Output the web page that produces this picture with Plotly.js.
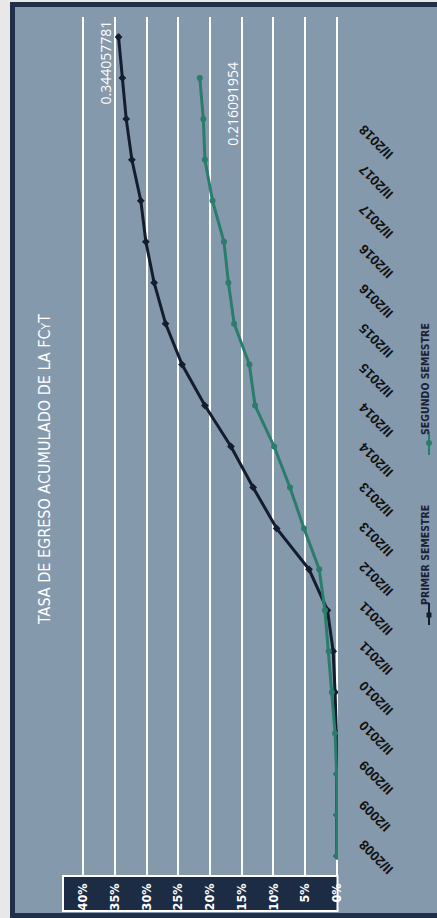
<!DOCTYPE html>
<html><head><meta charset="utf-8">
<script src="https://cdn.plot.ly/plotly-3.0.1.min.js"></script>
<style>
html,body{margin:0;padding:0;background:#e8e8e8;overflow:hidden;}
#frame{position:absolute;left:10px;top:2px;width:427px;height:916px;box-sizing:border-box;border-left:5px solid #1f3048;border-top:5px solid #1f3048;border-bottom:5px solid #1f3048;background:#8599ad;}
#chart{position:absolute;left:0;top:0;width:437px;height:918px;}
</style></head><body>
<div id="frame"></div><div id="chart"></div>
<script>
// ---- data ----
const periods = ['II/2008','I/2009','II/2009','I/2010','II/2010','I/2011','II/2011','I/2012','II/2012','I/2013','II/2013','I/2014','II/2014','I/2015','II/2015','I/2016','II/2016','I/2017','II/2017','I/2018','II/2018'];
const primer = [0,0,0,0.001,0.003,0.006,0.015,0.044,0.095,0.132,0.167,0.208,0.244,0.270,0.288,0.301,0.309,0.323,0.332,0.338,0.344057781];
const segundo = [0,0,0.0005,0.003,0.008,0.013,0.019,0.028,0.052,0.074,0.099,0.129,0.138,0.162,0.171,0.178,0.196,0.208,0.2105,0.216091954];
const seriesNames = ['PRIMER SEMESTRE','SEGUNDO SEMESTRE'];
const catLabels = ['II/2008','I/2009','II/2009','II/2010','II/2010','II/2011','II/2011','II/2012','II/2013','II/2013','II/2014','II/2014','II/2015','II/2015','II/2016','II/2016','II/2017','II/2017','II/2018'];
const pctTicks = [0,0.05,0.10,0.15,0.20,0.25,0.30,0.35,0.40];
const pctLabels = ['0%','5%','10%','15%','20%','25%','30%','35%','40%'];
const titleText = 'TASA DE EGRESO ACUMULADO DE LA FC<span style="font-size:12px">Y</span>T';

// ---- styles ----
const W=437,H=918,L=82,R=0,T=17,B=43,plotRight=338;
const narrow = 'Liberation Sans Narrow, DejaVu Sans Condensed, Arial Narrow, sans-serif';
const darkC = '#141d2d', greenC = '#2a7d6b';
const px2x = p => (p-L)/(W-L-R);
const py2y = p => (H-B-p)/(H-T-B);

const idx = a => a.map((_,i)=>i);

const traces = [
  {x: primer, y: idx(primer), type:'scatter', mode:'lines+markers', name:seriesNames[0],
   line:{color:darkC,width:3}, marker:{symbol:'diamond',size:6,color:darkC}, showlegend:false, hoverinfo:'skip'},
  {x: segundo, y: idx(segundo), type:'scatter', mode:'lines+markers', name:seriesNames[1],
   line:{color:greenC,width:3}, marker:{symbol:'circle',size:6,color:greenC}, showlegend:false, hoverinfo:'skip'},
  {x: catLabels.map(()=>null), y: idx(catLabels), yaxis:'y2', type:'scatter', mode:'markers',
   marker:{opacity:0}, showlegend:false, hoverinfo:'skip'}
];

const last1 = primer.length-1, last2 = segundo.length-1;
const layout = {
  width:W, height:H,
  margin:{l:L,r:R,t:T,b:B},
  paper_bgcolor:'rgba(0,0,0,0)', plot_bgcolor:'rgba(0,0,0,0)',
  showlegend:false,
  xaxis:{domain:[0,px2x(plotRight)], range:[0.4016,-0.0016], tickmode:'array', tickvals:pctTicks, ticktext:pctLabels,
    tickangle:-90, showgrid:true, gridcolor:'#ffffff', gridwidth:2, zeroline:false, showline:false, ticks:'',
    tickfont:{family:narrow,size:12.5,color:'#ffffff',weight:'bold'}, ticklabelstandoff:5},
  yaxis:{range:[-0.464,20.488], showticklabels:false, showgrid:false, zeroline:false, showline:false, ticks:''},
  yaxis2:{overlaying:'y', anchor:'free', position:px2x(360), side:'left', tickmode:'array', tickvals:idx(catLabels), ticktext:catLabels,
    tickangle:-135, range:[-0.73,20.87], showgrid:false, zeroline:false, showline:false, ticks:'',
    tickfont:{family:'Liberation Sans, Arial, sans-serif',size:13.5,color:'#111111',weight:'bold'}},
  annotations:[
    {text:titleText, xref:'paper', yref:'paper', x:px2x(45), y:py2y(470), xanchor:'center', yanchor:'middle', textangle:-90, showarrow:false,
     font:{family:narrow,size:16,color:'#ffffff'}},
    {text:String(primer[last1]), xref:'x', yref:'y', x:primer[last1], y:last1, xanchor:'center', yanchor:'middle', textangle:-90, showarrow:false,
     xshift:-13, yshift:-26, font:{family:'Open Sans, sans-serif',size:14,color:'#ffffff'}},
    {text:String(segundo[last2]), xref:'x', yref:'y', x:segundo[last2], y:last2, xanchor:'center', yanchor:'middle', textangle:-90, showarrow:false,
     xshift:33, yshift:-26, font:{family:'Open Sans, sans-serif',size:14,color:'#ffffff'}},
    {text:seriesNames[0], xref:'paper', yref:'paper', x:px2x(425), y:py2y(555), xanchor:'center', yanchor:'middle', textangle:-90, showarrow:false,
     font:{family:narrow,size:10.5,color:'#1a2233',weight:'bold'}},
    {text:seriesNames[1], xref:'paper', yref:'paper', x:px2x(425), y:py2y(379), xanchor:'center', yanchor:'middle', textangle:-90, showarrow:false,
     font:{family:narrow,size:10.5,color:'#1a2233',weight:'bold'}}
  ],
  shapes:[
    {type:'rect', layer:'below', xref:'paper', yref:'paper', x0:px2x(63), x1:px2x(337.5), y0:py2y(911), y1:py2y(876),
     fillcolor:'#1c2c44', line:{color:'#ffffff',width:2}},
    {type:'line', xref:'paper', yref:'paper', x0:px2x(429), x1:px2x(429), y0:py2y(625), y1:py2y(603), line:{color:darkC,width:2}},
    {type:'rect', xref:'paper', yref:'paper', xsizemode:'pixel', ysizemode:'pixel', xanchor:px2x(429), yanchor:py2y(615),
     x0:-2.5, x1:2.5, y0:-2.5, y1:2.5, fillcolor:darkC, line:{width:0}},
    {type:'line', xref:'paper', yref:'paper', x0:px2x(429), x1:px2x(429), y0:py2y(455), y1:py2y(432), line:{color:greenC,width:2}},
    {type:'circle', xref:'paper', yref:'paper', xsizemode:'pixel', ysizemode:'pixel', xanchor:px2x(429), yanchor:py2y(443),
     x0:-3, x1:3, y0:-3, y1:3, fillcolor:greenC, line:{width:0}}
  ]
};
Plotly.newPlot('chart', traces, layout, {staticPlot:true, displayModeBar:false});
</script></body></html>
